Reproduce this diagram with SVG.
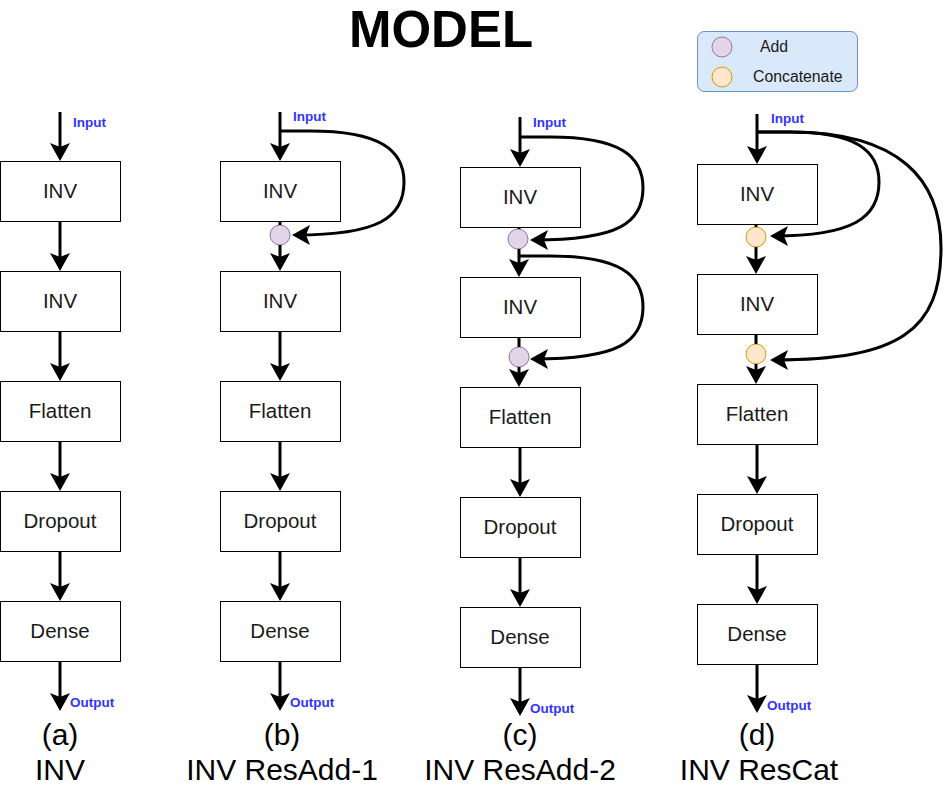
<svg xmlns="http://www.w3.org/2000/svg" width="943" height="792" viewBox="0 0 943 792">
<defs>
<style>
.box{fill:#fff;stroke:#000;stroke-width:1}
.lbl{font-family:"Liberation Sans",Arial,sans-serif;font-size:20.5px;fill:#1a1a1a;text-anchor:middle}
.io{font-family:"Liberation Sans",Arial,sans-serif;font-size:13.5px;font-weight:bold;fill:#3333ff}
.cap{font-family:"Liberation Sans",Arial,sans-serif;font-size:30px;fill:#000;text-anchor:middle}
.edge{fill:none;stroke:#000;stroke-width:3}
.arr{marker-end:url(#ah)}
.add{fill:#e1d5e7;stroke:#9673a6;stroke-width:1}
.cat{fill:#ffe6cc;stroke:#d79b00;stroke-width:1}
</style>
<marker id="ah" markerUnits="userSpaceOnUse" viewBox="0 0 18 20" markerWidth="18" markerHeight="20" refX="14" refY="10" orient="auto">
<path d="M0,0 L18,10 L0,20 L4,10 Z" fill="#000"/>
</marker>
</defs>
<rect width="943" height="792" fill="#fff"/>
<text x="441" y="47" font-family="Liberation Sans,Arial,sans-serif" font-size="51" font-weight="bold" text-anchor="middle" fill="#000">MODEL</text>

<g id="legend">
<rect x="697.5" y="31.5" width="160" height="60" rx="7" fill="#dae8fc" stroke="#6c8ebf"/>
<circle class="add" cx="722" cy="47" r="10"/>
<circle class="cat" cx="722" cy="77" r="10"/>
<text x="760" y="52" font-family="Liberation Sans,Arial,sans-serif" font-size="15.8" fill="#1a1a1a">Add</text>
<text x="753" y="82" font-family="Liberation Sans,Arial,sans-serif" font-size="15.8" fill="#1a1a1a">Concatenate</text>
</g>

<g id="col-a">
<g id="a-inv1"><rect class="box" x="0.5" y="161.5" width="120" height="60"/><text class="lbl" x="60" y="198">INV</text></g>
<g id="a-inv2"><rect class="box" x="0.5" y="271.5" width="120" height="60"/><text class="lbl" x="60" y="308">INV</text></g>
<g id="a-flatten"><rect class="box" x="0.5" y="381.5" width="120" height="60"/><text class="lbl" x="60" y="418">Flatten</text></g>
<g id="a-dropout"><rect class="box" x="0.5" y="491.5" width="120" height="60"/><text class="lbl" x="60" y="528">Dropout</text></g>
<g id="a-dense"><rect class="box" x="0.5" y="601.5" width="120" height="60"/><text class="lbl" x="60" y="638">Dense</text></g>
<text class="io" x="73" y="127">Input</text>
<text class="io" x="70" y="707">Output</text>
<text class="cap" x="60" y="745">(a)</text>
<text class="cap" x="60" y="780">INV</text>
</g>

<g id="col-b">
<g id="b-inv1"><rect class="box" x="220.5" y="161.5" width="120" height="60"/><text class="lbl" x="280" y="198">INV</text></g>
<g id="b-add1"><circle class="add" cx="280" cy="235" r="10"/></g>
<g id="b-inv2"><rect class="box" x="220.5" y="271.5" width="120" height="60"/><text class="lbl" x="280" y="308">INV</text></g>
<g id="b-flatten"><rect class="box" x="220.5" y="381.5" width="120" height="60"/><text class="lbl" x="280" y="418">Flatten</text></g>
<g id="b-dropout"><rect class="box" x="220.5" y="491.5" width="120" height="60"/><text class="lbl" x="280" y="528">Dropout</text></g>
<g id="b-dense"><rect class="box" x="220.5" y="601.5" width="120" height="60"/><text class="lbl" x="280" y="638">Dense</text></g>
<text class="io" x="293" y="121">Input</text>
<text class="io" x="290" y="707">Output</text>
<text class="cap" x="282" y="745">(b)</text>
<text class="cap" x="282" y="780">INV ResAdd-1</text>
</g>

<g id="col-c">
<g id="c-inv1"><rect class="box" x="460.5" y="167.5" width="120" height="60"/><text class="lbl" x="520" y="204">INV</text></g>
<g id="c-add1"><circle class="add" cx="518" cy="239" r="10"/></g>
<g id="c-inv2"><rect class="box" x="460.5" y="277.5" width="120" height="60"/><text class="lbl" x="520" y="314">INV</text></g>
<g id="c-add2"><circle class="add" cx="519" cy="357" r="10"/></g>
<g id="c-flatten"><rect class="box" x="460.5" y="387.5" width="120" height="60"/><text class="lbl" x="520" y="424">Flatten</text></g>
<g id="c-dropout"><rect class="box" x="460.5" y="497.5" width="120" height="60"/><text class="lbl" x="520" y="534">Dropout</text></g>
<g id="c-dense"><rect class="box" x="460.5" y="607.5" width="120" height="60"/><text class="lbl" x="520" y="644">Dense</text></g>
<text class="io" x="533" y="127">Input</text>
<text class="io" x="530" y="713">Output</text>
<text class="cap" x="520" y="745">(c)</text>
<text class="cap" x="520" y="780">INV ResAdd-2</text>
</g>

<g id="col-d">
<g id="d-inv1"><rect class="box" x="697.5" y="164.5" width="120" height="60"/><text class="lbl" x="757" y="201">INV</text></g>
<g id="d-cat1"><circle class="cat" cx="756" cy="237" r="10"/></g>
<g id="d-inv2"><rect class="box" x="697.5" y="274.5" width="120" height="60"/><text class="lbl" x="757" y="311">INV</text></g>
<g id="d-cat2"><circle class="cat" cx="756" cy="354" r="10"/></g>
<g id="d-flatten"><rect class="box" x="697.5" y="384.5" width="120" height="60"/><text class="lbl" x="757" y="421">Flatten</text></g>
<g id="d-dropout"><rect class="box" x="697.5" y="494.5" width="120" height="60"/><text class="lbl" x="757" y="531">Dropout</text></g>
<g id="d-dense"><rect class="box" x="697.5" y="604.5" width="120" height="60"/><text class="lbl" x="757" y="641">Dense</text></g>
<text class="io" x="771" y="123">Input</text>
<text class="io" x="767" y="710">Output</text>
<text class="cap" x="757" y="745">(d)</text>
<text class="cap" x="759" y="780">INV ResCat</text>
</g>

<g id="connectors">
<!-- a -->
<path class="edge arr" d="M60,112 V157"/>
<path class="edge arr" d="M60,222 V267"/>
<path class="edge arr" d="M60,332 V377"/>
<path class="edge arr" d="M60,442 V487"/>
<path class="edge arr" d="M60,552 V597"/>
<path class="edge arr" d="M60,662 V707"/>
<!-- b -->
<path class="edge arr" d="M280,112 V157"/>
<path class="edge" d="M280,222 V225"/>
<path class="edge arr" d="M280,245 V267"/>
<path class="edge arr" d="M280,332 V377"/>
<path class="edge arr" d="M280,442 V487"/>
<path class="edge arr" d="M280,552 V597"/>
<path class="edge arr" d="M280,662 V707"/>
<path class="edge arr" d="M280,131 L310,131 C380,131 404,150 404,182 C404,218 378,235 296,235"/>
<!-- c -->
<path class="edge arr" d="M520,117 V163"/>
<path class="edge" d="M519,228 V229"/>
<path class="edge arr" d="M519,249 V273"/>
<path class="edge" d="M519,338 V347"/>
<path class="edge arr" d="M519,367 V383"/>
<path class="edge arr" d="M520,448 V493"/>
<path class="edge arr" d="M520,558 V603"/>
<path class="edge arr" d="M520,668 V712"/>
<path class="edge arr" d="M520,137 L550,137 C620,137 643,156 643,188 C643,223 618,240 534,240"/>
<path class="edge arr" d="M520,256 L550,256 C620,256 643,275 643,307 C643,342 618,359 534,359"/>
<!-- d -->
<path class="edge arr" d="M757,114 V160"/>
<path class="edge" d="M756,225 V227"/>
<path class="edge arr" d="M756,247 V270"/>
<path class="edge" d="M756,335 V344"/>
<path class="edge arr" d="M756,364 V380"/>
<path class="edge arr" d="M757,445 V490"/>
<path class="edge arr" d="M757,555 V600"/>
<path class="edge arr" d="M757,665 V709"/>
<path class="edge arr" d="M757,132 L790,132 C855,132 879,150 879,182 C879,218 852,236 774,236"/>
<path class="edge arr" d="M757,132 L790,132 C900,132 941,180 941,248 C941,330 900,360 774,360"/>
</g>
</svg>
